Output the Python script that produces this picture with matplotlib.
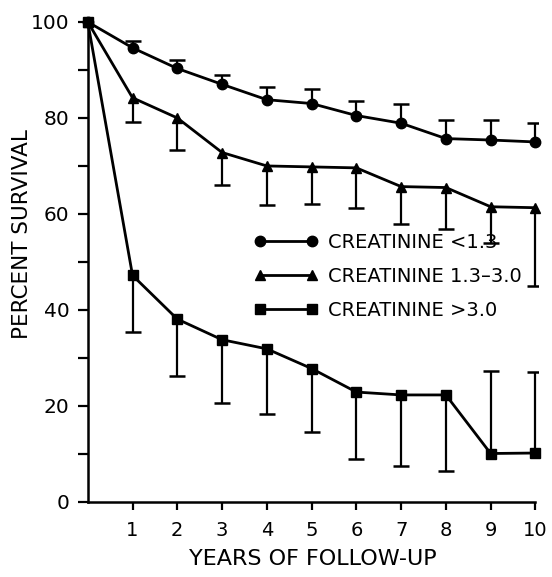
import matplotlib
matplotlib.use("Agg")
import matplotlib.pyplot as plt
from matplotlib.lines import Line2D

years = [0, 1, 2, 3, 4, 5, 6, 7, 8, 9, 10]

low_vals = [100, 94.6, 90.3, 87.0, 83.8, 83.0, 80.5, 78.9, 75.7, 75.4, 75.0]
low_caps = [None, 96.0, 92.0, 89.0, 86.5, 86.0, 83.6, 82.9, 79.6, 79.6, 79.0]

mid_vals = [100, 84.2, 80.0, 72.8, 70.0, 69.8, 69.6, 65.7, 65.5, 61.5, 61.3]
mid_caps = [None, 79.2, 73.4, 66.0, 61.9, 62.0, 61.3, 58.0, 56.8, 54.0, 45.0]

high_vals = [100, 47.2, 38.1, 33.8, 31.9, 27.8, 22.9, 22.3, 22.3, 10.1, 10.2]
high_caps = [None, 35.4, 26.2, 20.7, 18.4, 14.5, 9.0, 7.6, 6.5, 27.2, 27.1]

labels = ["CREATININE <1.3", "CREATININE 1.3\u20133.0", "CREATININE >3.0"]
markers = ["o", "^", "s"]
xticks = [1, 2, 3, 4, 5, 6, 7, 8, 9, 10]
yticks = [0, 20, 40, 60, 80, 100]
yminor = [10, 30, 50, 70, 90]

fig = plt.figure(figsize=(5.52, 5.77), dpi=100)
ax = fig.add_axes([0.159, 0.130, 0.815, 0.832])

series = [(low_vals, low_caps), (mid_vals, mid_caps), (high_vals, high_caps)]
handles = []
for (vals, caps), m, lab in zip(series, markers, labels):
    for x, v, c in zip(years, vals, caps):
        if c is None:
            continue
        ax.vlines(x, v, c, color="black", lw=1.6, zorder=2)
        ax.plot([x], [c], marker="_", ms=11, mew=1.8, color="black", ls="none", zorder=2)
    ms = 7.5 if m != "s" else 7
    ax.plot(years, vals, color="black", lw=2.0, marker=m, ms=ms, clip_on=False, zorder=3)
    handles.append(Line2D([0], [0], color="black", lw=2.0, marker=m, ms=ms))

ax.set_xlim(0, 10.05)
ax.set_ylim(0, 100)
ax.spines["top"].set_visible(False)
ax.spines["right"].set_visible(False)
ax.spines["left"].set_linewidth(1.8)
ax.spines["bottom"].set_linewidth(1.8)
ax.spines["bottom"].set_bounds(0, 10)

ax.set_xticks(xticks)
ax.set_xticklabels([str(t) for t in xticks], fontsize=14)
ax.set_yticks(yticks)
ax.set_yticklabels([str(t) for t in yticks], fontsize=14.5)
ax.set_yticks(yminor, minor=True)
ax.tick_params(axis="y", which="both", direction="out", length=7, width=1.6, pad=6)
ax.tick_params(axis="x", direction="out", length=6, width=1.6, pad=8)

ax.set_xlabel("YEARS OF FOLLOW-UP", fontsize=16, labelpad=6)
ax.set_ylabel("PERCENT SURVIVAL", fontsize=15.5)
ax.yaxis.set_label_coords(-0.125, 0.558)

leg = fig.legend(handles, labels, loc="upper left", bbox_to_anchor=(0.432, 0.624),
                 frameon=False, numpoints=2, handlelength=3.3, fontsize=14,
                 labelspacing=0.78, handletextpad=0.5, borderpad=0.3)

fig.savefig("out.png", dpi=100)
